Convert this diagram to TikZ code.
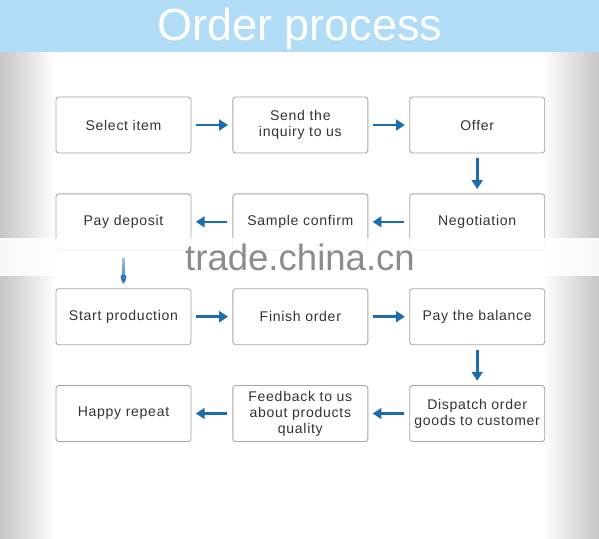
\documentclass[tikz,border=0pt]{standalone}
\usepackage{fontspec}
\setmainfont{Liberation Sans}
\newfontfamily\boxfont[LetterSpace=5]{Liberation Sans}
\usetikzlibrary{arrows.meta, positioning, fadings}
\definecolor{bannerBlue}{HTML}{B0DDF5}
\definecolor{flowBlue}{HTML}{1C6CAE}
\definecolor{boxGray}{HTML}{A5A5A5}
\definecolor{textDark}{HTML}{333333}
\definecolor{sideGray}{HTML}{C6C6C6}
\definecolor{markGray}{HTML}{8C8C8C}
\tikzfading[name=arrowfade, top color=transparent!75, bottom color=transparent!0]

\begin{document}
\begin{tikzpicture}[font={\boxfont\fontsize{10}{11.5}\selectfont},
    node distance=1.0cm and 1.025cm,
    stepbox/.style={rectangle, rounded corners=2pt, draw=boxGray, line width=0.6pt,
      text=textDark, align=center, minimum width=3.375cm, minimum height=1.4cm,
      inner sep=1pt},
    flow/.style={-{Triangle[length=2.2mm,width=2.7mm]}, draw=flowBlue, line width=1.9pt,
      shorten <=0.125cm, shorten >=0.11cm}]
  \useasboundingbox (0,0) rectangle (14.975,-13.475);
  % fondo y bordes grises
  \fill[white] (0,0) rectangle (14.975,-13.475);
  \shade[left color=sideGray, right color=white] (0,-1.3) rectangle (1.4,-13.475);
  \shade[left color=white, right color=sideGray] (13.55,-1.3) rectangle (14.975,-13.475);
  % banda del titulo
  \fill[bannerBlue] (0,0) rectangle (14.975,-1.3);
  \node[anchor=base, text=white, font={\rmfamily\fontsize{32}{32}\selectfont}]
        (title) at (7.5,-1.0) {Order process};
  % fila 1
  \node[stepbox] (sel) at (3.0875,-3.125) {Select item};
  \node[stepbox, right=of sel] (inq) {Send the\\inquiry to us};
  \node[stepbox, right=of inq] (offer) {Offer};
  % fila 2
  \node[stepbox, below=of offer] (nego) {Negotiation};
  \node[stepbox, left=of nego] (sample) {Sample confirm};
  \node[stepbox, left=of sample] (dep) {Pay deposit};
  % fila 3
  \node[stepbox, below=0.95cm of dep] (start) {Start production};
  \node[stepbox, right=of start] (fin) {Finish order};
  \node[stepbox, right=of fin] (bal) {Pay the balance};
  % fila 4
  \node[stepbox, below=of bal] (disp) {Dispatch order\\goods to customer};
  \node[stepbox, left=of disp] (fb) {Feedback to us\\about products\\quality};
  \node[stepbox, left=of fb] (happy) {Happy repeat};
  % flechas
  \draw[flow] (sel) -- (inq);
  \draw[flow] (inq) -- (offer);
  \draw[flow] (offer) -- (nego);
  \draw[flow] (nego) -- (sample);
  \draw[flow] (sample) -- (dep);
  \draw[flow] (start) -- (fin);
  \draw[flow] (fin) -- (bal);
  \draw[flow] (bal) -- (disp);
  \draw[flow] (disp) -- (fb);
  \draw[flow] (fb) -- (happy);
  % banda de la marca de agua
  \fill[white, opacity=0.88] (0,-5.95) rectangle (14.975,-6.9);
  \draw[flow, shorten <=0.2cm, path fading=arrowfade] (dep) -- (start);
  \node[anchor=base, text=markGray, font={\rmfamily\fontsize{26}{26}\selectfont}]
        (mark) at (7.5,-6.75) {trade.china.cn};
\end{tikzpicture}
\end{document}
